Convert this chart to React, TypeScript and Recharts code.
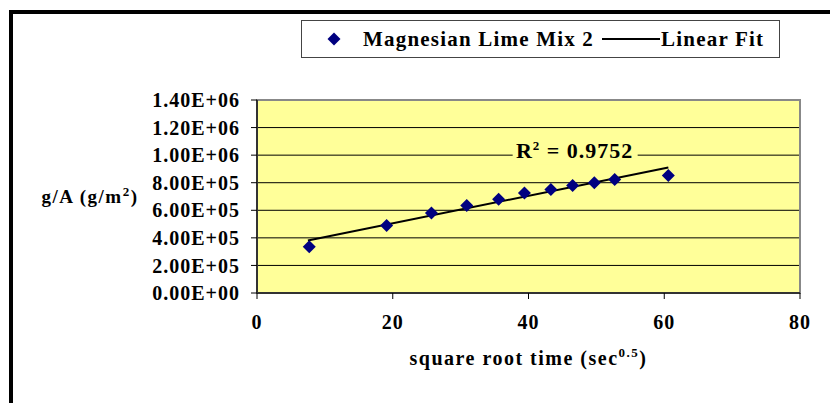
import React from 'react';
import {
  ComposedChart,
  Scatter,
  Line,
  XAxis,
  YAxis,
  CartesianGrid,
  ReferenceDot,
  ReferenceArea,
  Label,
} from 'recharts';

// sqrt(time) in sec^0.5 vs. mass per area (g/m^2)
const sqrtTime = [7.7, 19.1, 25.7, 30.9, 35.6, 39.4, 43.3, 46.5, 49.7, 52.7, 60.6];
const gPerArea = [3.35e5, 4.89e5, 5.8e5, 6.35e5, 6.8e5, 7.25e5, 7.5e5, 7.8e5, 8.0e5, 8.23e5, 8.52e5];

// endpoints of the linear trend line as drawn
const fitX = [7.5, 60.6];
const fitY = [3.81e5, 9.1e5];

const xTicks = [0, 20, 40, 60, 80];
const yTicks = [0, 2e5, 4e5, 6e5, 8e5, 1e6, 1.2e6, 1.4e6];

const seriesName = 'Magnesian Lime Mix 2';
const fitName = 'Linear Fit';
const rSquared = '0.9752';

const FONT = '"Liberation Serif", "Times New Roman", serif';
const NAVY = '#000080';
const PLOT_BG = '#FFFF99';

const points = sqrtTime.map((x, i) => ({ x, y: gPerArea[i] }));
const fitLine = fitX.map((x, i) => ({ x, y: fitY[i] }));

// 1.40E+06 style
const sci = (v: number) => {
  const [m, e] = v.toExponential(2).split('e');
  const sign = e.startsWith('-') ? '-' : '+';
  const digits = e.replace(/[+-]/, '').padStart(2, '0');
  return `${m}E${sign}${digits}`;
};

const Diamond = ({ cx, cy, r = 6.5 }: { cx: number; cy: number; r?: number }) => (
  <polygon
    points={`${cx},${cy - r} ${cx + r},${cy} ${cx},${cy + r} ${cx - r},${cy}`}
    fill={NAVY}
  />
);

const tickStyle = { fontFamily: FONT, fontWeight: 700, fontSize: 20, fill: '#000', letterSpacing: 1 };

function ChartLegend() {
  return (
    <div
      style={{
        position: 'absolute',
        left: 301,
        top: 20,
        width: 479,
        height: 38,
        boxSizing: 'border-box',
        border: '1px solid #444',
        background: '#fff',
        display: 'flex',
        alignItems: 'center',
        fontFamily: FONT,
        fontWeight: 700,
        fontSize: 21,
        letterSpacing: 1.2,
        whiteSpace: 'nowrap',
      }}
    >
      <svg width={14} height={14} style={{ marginLeft: 25 }}>
        <Diamond cx={7} cy={7} r={6.5} />
      </svg>
      <span style={{ marginLeft: 22 }}>{seriesName}</span>
      <svg width={58} height={10} style={{ marginLeft: 8 }}>
        <line x1={0} y1={5} x2={58} y2={5} stroke="#000" strokeWidth={2} />
      </svg>
      <span style={{ marginLeft: 1 }}>{fitName}</span>
    </div>
  );
}

export default function App() {
  return (
    <div style={{ position: 'absolute', left: 0, top: 0, width: 830, height: 403, background: '#fff' }}>
      <div
        style={{
          position: 'absolute',
          left: 9,
          top: 10,
          width: 821,
          height: 393,
          boxSizing: 'border-box',
          borderTop: '4px solid #000',
          borderLeft: '4px solid #000',
        }}
      />
      <ComposedChart
        width={830}
        height={403}
        margin={{ top: 100, right: 30, left: 0, bottom: 0 }}
        style={{ position: 'absolute', left: 0, top: 0 }}
      >
        <CartesianGrid fill={PLOT_BG} stroke="#000" vertical={false} />
        <ReferenceArea x1={0} x2={80} y1={0} y2={1.4e6} fill="none" stroke="#888" strokeWidth={2} />
        <XAxis
          dataKey="x"
          type="number"
          domain={[0, 80]}
          ticks={xTicks}
          interval={0}
          height={110}
          tick={tickStyle}
          tickSize={6}
          tickMargin={16}
          tickLine={{ stroke: '#000' }}
          axisLine={{ stroke: '#333', strokeWidth: 2 }}
        >
          <Label
            content={(p: any) => {
              const vb = p.viewBox;
              return (
                <text
                  x={vb.x + vb.width / 2}
                  y={365}
                  textAnchor="middle"
                  fontFamily={FONT}
                  fontWeight={700}
                  fontSize={20}
                  letterSpacing={1.5}
                  fill="#000"
                >
                  square root time (sec
                  <tspan dy={-8} fontSize={13}>0.5</tspan>
                  <tspan dy={8}>)</tspan>
                </text>
              );
            }}
          />
        </XAxis>
        <YAxis
          type="number"
          domain={[0, 1.4e6]}
          ticks={yTicks}
          interval={0}
          width={257}
          tickFormatter={sci}
          tick={tickStyle}
          tickSize={6}
          tickMargin={11}
          tickLine={{ stroke: '#000' }}
          axisLine={{ stroke: '#333', strokeWidth: 2 }}
        >
          <Label
            content={(p: any) => {
              const vb = p.viewBox;
              return (
                <text
                  x={90}
                  y={vb.y + vb.height / 2 + 6}
                  textAnchor="middle"
                  fontFamily={FONT}
                  fontWeight={700}
                  fontSize={19}
                  letterSpacing={1.5}
                  fill="#000"
                >
                  g/A (g/m
                  <tspan dy={-7} fontSize={13}>2</tspan>
                  <tspan dy={7}>)</tspan>
                </text>
              );
            }}
          />
        </YAxis>
        <Line
          data={fitLine}
          dataKey="y"
          type="linear"
          stroke="#000"
          strokeWidth={2}
          dot={false}
          activeDot={false}
          isAnimationActive={false}
        />
        <Scatter
          data={points}
          dataKey="y"
          fill={NAVY}
          isAnimationActive={false}
          shape={(p: any) => <Diamond cx={p.cx} cy={p.cy} />}
        />
        <ReferenceDot
          x={46.8}
          y={1.03e6}
          shape={(p: any) => (
            <g>
              <rect x={p.cx - 62} y={p.cy - 13} width={125} height={26} fill={PLOT_BG} />
              <text
                x={p.cx}
                y={p.cy + 7}
                textAnchor="middle"
                fontFamily={FONT}
                fontWeight={700}
                fontSize={22}
                letterSpacing={1}
                fill="#000"
              >
                R<tspan dy={-8} fontSize={13}>2</tspan>
                <tspan dy={8}> = {rSquared}</tspan>
              </text>
            </g>
          )}
        />
      </ComposedChart>
      <ChartLegend />
    </div>
  );
}
